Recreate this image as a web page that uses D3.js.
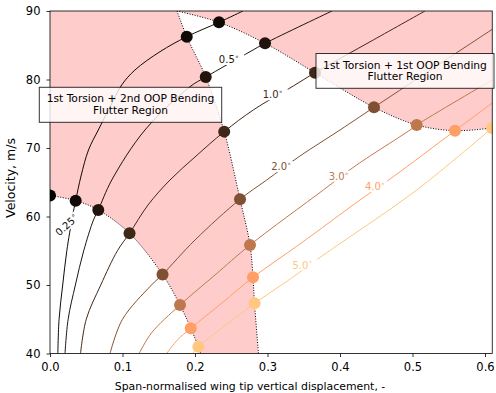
<!DOCTYPE html>
<html><head><meta charset="utf-8">
<script src="https://cdn.jsdelivr.net/npm/d3@7"></script>
<style>
body{margin:0;background:#fff;}
svg{display:block;font-family:"DejaVu Sans",sans-serif;}
</style></head><body>
<svg id="chart" width="496" height="393"></svg>
<script>
// ---- data (x = span-normalised tip displacement, V = velocity m/s) ----
const angles = [0.25, 0.5, 1.0, 2.0, 3.0, 4.0, 5.0];
const angleLabelText = ["0.25", "0.5", "1.0", "2.0", "3.0", "4.0", "5.0"];
const labelX = [0.023, 0.2469, 0.3073, 0.319, 0.3984, 0.4483, 0.3483];
const labelV = [58.76, 82.92, 77.78, 67.27, 65.88, 64.35, 52.92];
const labelRotation = [-42, 0, 0, 0, 0, 0, 0];

const line025 = [[0.0108,40],[0.0125,45],[0.0175,50],[0.0232,55],[0.031,60],[0.0354,62.31],[0.0428,65.91],[0.0531,69.71],[0.0666,72.63],[0.0828,75.99],[0.0989,79.2],[0.1172,81.39],[0.1517,84.06],[0.1886,86.25],[0.2331,88.35],[0.2662,90]];
const line05 = [[0.0207,40],[0.025,45],[0.035,50],[0.0465,55],[0.06,59.5],[0.0666,60.95],[0.0852,65.33],[0.131,72.63],[0.1931,78.95],[0.2148,80.36],[0.2759,84.06],[0.2966,85.28],[0.389,90]];
const line10 = [[0.0421,40],[0.05,45],[0.07,50],[0.093,55],[0.1097,57.55],[0.1352,61.68],[0.1655,65.33],[0.2,68.69],[0.2403,72.39],[0.2804,75.55],[0.3356,79.05],[0.3655,80.99],[0.4459,85.77],[0.5172,90]];
const line20 = [[0.0828,40],[0.1,45],[0.14,50],[0.1552,51.53],[0.2,56.57],[0.2621,62.51],[0.2989,65.33],[0.3448,68.83],[0.4,72.63],[0.4469,75.94],[0.61,87.33]];
const line30 = [[0.123,40],[0.14,43],[0.1793,47.08],[0.2276,51.46],[0.2759,55.84],[0.377,63.87],[0.423,67.52],[0.4966,72.63],[0.5058,73.36],[0.61,79.93]];
const line40 = [[0.1609,40],[0.176,42],[0.1941,43.68],[0.2372,47.37],[0.28,51.12],[0.3448,55.99],[0.4276,62.41],[0.4735,65.81],[0.5586,72.53],[0.61,76.57]];
const line50 = [[0.197,40],[0.2046,40.99],[0.2428,44.16],[0.2821,47.33],[0.3255,50.44],[0.3752,54.23],[0.5058,63.87],[0.6097,72.92]];
const contourLines = [line025, line05, line10, line20, line30, line40, line50];

// flutter boundaries
const boundaryLower = [[0,63.07],[0.0359,62.31],[0.0666,60.95],[0.1097,57.55],[0.1552,51.53],[0.1793,47.08],[0.1941,43.68],[0.2046,40.99],[0.2078,40]];
const boundaryRight = [[0.1752,90],[0.1886,86.25],[0.2148,80.36],[0.2403,72.39],[0.2621,62.51],[0.2759,55.84],[0.28,51.12],[0.2821,47.33],[0.2876,40]];
const boundaryUpper = [[0.1752,90],[0.2331,88.35],[0.2966,85.28],[0.3655,80.99],[0.4469,75.94],[0.5058,73.36],[0.5586,72.53],[0.6097,72.92]];

// intersection markers (angle, x, V)
const dotAngles = [0, 0.25, 0.5, 1.0, 2.0, 3.0, 4.0, 5.0, 0.25, 0.5, 1.0, 2.0, 3.0, 4.0, 5.0, 0.25, 0.5, 1.0, 2.0, 3.0, 4.0, 5.0];
const dotX = [0, 0.0354, 0.0666, 0.1097, 0.1552, 0.1793, 0.1941, 0.2046, 0.1886, 0.2148, 0.2403, 0.2621, 0.2759, 0.28, 0.2821, 0.2331, 0.2966, 0.3655, 0.4469, 0.5058, 0.5586, 0.6097];
const dotV = [63.07, 62.31, 60.95, 57.55, 51.53, 47.08, 43.68, 40.99, 86.25, 80.36, 72.39, 62.51, 55.84, 51.12, 47.33, 88.35, 85.28, 80.99, 75.94, 73.36, 72.53, 72.92];

const xTicks = [0, 0.1, 0.2, 0.3, 0.4, 0.5, 0.6];
const yTicks = [40, 50, 60, 70, 80, 90];
const boxTexts = [["1st Torsion + 2nd OOP Bending", "Flutter Region"], ["1st Torsion + 1st OOP Bending", "Flutter Region"]];

// ---- drawing ----
const svg = d3.select("#chart");
const x = d3.scaleLinear().domain([0, 0.61]).range([50, 492.25]);
const y = d3.scaleLinear().domain([40, 90]).range([353.5, 11]);
const maxAngle = 5.0;
const copper = a => { const t = a / maxAngle; return d3.rgb(Math.min(1, 1.25 * t) * 255, 0.7812 * t * 255, 0.4975 * t * 255).toString(); };

svg.append("defs").append("clipPath").attr("id", "clip")
  .append("rect").attr("x", x(0)).attr("y", y(90)).attr("width", x(0.61) - x(0)).attr("height", y(40) - y(90));
const g = svg.append("g").attr("clip-path", "url(#clip)");

const lineGen = d3.line().x(d => x(d[0])).y(d => y(d[1])).curve(d3.curveCatmullRom.alpha(0.5));
const pink = "#ffcccc";

const regionA = `M${x(0)},${y(90)}L${x(0)},${y(boundaryLower[0][1])}` +
  lineGen(boundaryLower).replace(/^M/, "L") +
  `L${x(boundaryRight[boundaryRight.length - 1][0])},${y(40)}` +
  lineGen(boundaryRight.slice().reverse()).replace(/^M/, "L") + "Z";
g.append("path").attr("d", regionA).attr("fill", pink);

const last = boundaryUpper[boundaryUpper.length - 1];
const regionB = lineGen(boundaryUpper) + `L${x(0.61)},${y(last[1])}L${x(0.61)},${y(90)}Z`;
g.append("path").attr("d", regionB).attr("fill", pink);

// contour lines
contourLines.forEach((pts, i) => {
  g.append("path").attr("d", lineGen(pts)).attr("fill", "none")
    .attr("stroke", copper(angles[i])).attr("stroke-width", 1);
});

// contour labels with inline gap
const lblG = svg.append("g");
angles.forEach((a, i) => {
  const gg = lblG.append("g").attr("transform", `translate(${x(labelX[i])},${y(labelV[i])}) rotate(${labelRotation[i]})`);
  const bg = gg.append("rect").attr("fill", "#fff");
  const t = gg.append("text").attr("text-anchor", "middle").attr("dy", "0.36em")
    .attr("font-size", 10).attr("fill", copper(a));
  t.append("tspan").text(angleLabelText[i]);
  t.append("tspan").attr("font-size", 7).attr("dy", "-0.6em").text("\u2218");
  const bb = t.node().getBBox();
  bg.attr("x", bb.x - 5).attr("y", -5.5).attr("width", bb.width + 10).attr("height", 11);
});

// boundaries
[boundaryLower, boundaryRight, boundaryUpper].forEach(b => {
  g.append("path").attr("d", lineGen(b)).attr("fill", "none")
    .attr("stroke", "#000").attr("stroke-width", 1).attr("stroke-dasharray", "1,1.6");
});

// dots
dotX.forEach((dx, i) => {
  g.append("circle").attr("cx", x(dx)).attr("cy", y(dotV[i])).attr("r", 6)
    .attr("fill", copper(dotAngles[i]));
});

// axes
const fs = 11.5;
const xAxis = svg.append("g").attr("transform", `translate(0,${y(40)})`)
  .call(d3.axisBottom(x).tickValues(xTicks).tickFormat(d3.format(".1f")).tickSize(3.5).tickPadding(5.5).tickSizeOuter(0));
const yAxis = svg.append("g").attr("transform", `translate(${x(0)},0)`)
  .call(d3.axisLeft(y).tickValues(yTicks).tickFormat(d3.format("d")).tickSize(3.5).tickPadding(6).tickSizeOuter(0));
[xAxis, yAxis].forEach(a => {
  a.select(".domain").remove();
  a.selectAll("text").attr("font-size", fs).attr("font-family", "DejaVu Sans").attr("fill", "#000");
  a.selectAll("line").attr("stroke", "#000").attr("stroke-width", 0.8);
});
svg.append("rect").attr("x", x(0)).attr("y", y(90)).attr("width", x(0.61) - x(0)).attr("height", y(40) - y(90))
  .attr("fill", "none").attr("stroke", "#000").attr("stroke-width", 0.8);

svg.append("text").attr("x", 250).attr("y", 389.5).attr("text-anchor", "middle").attr("font-size", 10.9)
  .text("Span-normalised wing tip vertical displacement, -");
svg.append("text").attr("transform", "translate(15,178) rotate(-90)").attr("text-anchor", "middle").attr("font-size", 12.5)
  .text("Velocity, m/s");

// annotation boxes
const boxes = [{x0: 39.3, y0: 87.3, x1: 221.7, y1: 122.3, b1: 102.3, b2: 114},
               {x0: 316, y0: 53.5, x1: 494, y1: 88.3, b1: 68.6, b2: 80.4}];
boxes.forEach((b, i) => {
  svg.append("rect").attr("x", b.x0).attr("y", b.y0).attr("width", b.x1 - b.x0).attr("height", b.y1 - b.y0)
    .attr("fill", "rgba(255,255,255,0.8)").attr("stroke", "rgba(0,0,0,0.8)").attr("stroke-width", 1);
  const cx = (b.x0 + b.x1) / 2;
  svg.append("text").attr("x", cx).attr("y", b.b1).attr("text-anchor", "middle").attr("font-size", 10.7).text(boxTexts[i][0]);
  svg.append("text").attr("x", cx).attr("y", b.b2).attr("text-anchor", "middle").attr("font-size", 10.7).text(boxTexts[i][1]);
});
</script>
</body></html>
